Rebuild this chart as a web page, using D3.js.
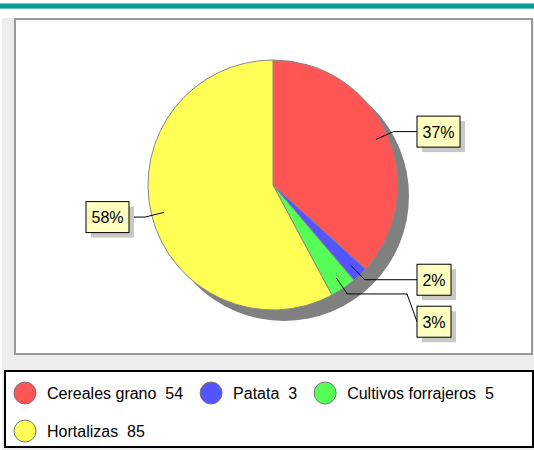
<!DOCTYPE html>
<html><head><meta charset="utf-8">
<script src="https://cdn.jsdelivr.net/npm/d3@7"></script>
<style>body{margin:0;background:#fff}svg{display:block;font-family:"Liberation Sans",Arial,sans-serif}</style>
</head><body>
<svg id="c" width="534" height="450"></svg>
<script>
const categories = ["Cereales grano", "Patata", "Cultivos forrajeros", "Hortalizas"];
const values = [54, 3, 5, 85];
const colors = ["#ff5555", "#5555ff", "#55ff55", "#ffff55"];

const svg = d3.select("#c");
// top teal bar
svg.append("rect").attr("x",0).attr("y",3).attr("width",534).attr("height",6).attr("fill","#0a9b97");
svg.append("rect").attr("x",0).attr("y",3).attr("width",534).attr("height",1).attr("fill","#6cc9c6");
svg.append("rect").attr("x",0).attr("y",8).attr("width",534).attr("height",1).attr("fill","#5fc2bf");
// gray background
svg.append("rect").attr("x",2).attr("y",18).attr("width",532).attr("height",432).attr("fill","#eeeeee");
// plot box
svg.append("rect").attr("x",15).attr("y",19).attr("width",517).attr("height",335)
  .attr("fill","#fff").attr("stroke","#999").attr("stroke-width",2);

const cx = 273, cy = 185, r = 125;
const total = d3.sum(values);
const pie = d3.pie().sort(null).value(d => d)(values);
const arc = d3.arc().innerRadius(0).outerRadius(r);
const g = svg.append("g").attr("transform", `translate(${cx},${cy})`);
// shadow
g.append("circle").attr("cx",11).attr("cy",11).attr("r",r).attr("fill","#808080");
g.selectAll("path.s").data(pie).join("path").attr("class","s")
  .attr("d", arc).attr("fill", (d,i) => colors[i]).attr("stroke","#888").attr("stroke-width",1);

// labels
const fmt = v => Math.round(v / total * 100) + "%";
const pt = (a, rr) => [rr * Math.sin(a), -rr * Math.cos(a)];
const bw = 43, bh = 31;
let lastBottomRight = -Infinity;
const lab = svg.append("g");
pie.forEach((d, i) => {
  const mid = (d.startAngle + d.endAngle) / 2;
  const a = pt(mid, r * 0.9), e = pt(mid, r * 1.055);
  const ax = cx + a[0], ay = cy + a[1], ex = cx + e[0], ey = cy + e[1];
  const right = Math.sin(mid) >= 0;
  const txt = fmt(d.value);
  const w = txt.length === 2 ? 34 : bw;
  let by = ey - bh / 2;
  if (right) {
    if (by < lastBottomRight + 11) by = lastBottomRight + 11;
    lastBottomRight = by + bh;
  }
  const bx = right ? cx + 144 : cx - 144 - w;
  const edgeX = right ? bx : bx + w;
  const pathPts = [[ax, ay], [ex, ey]];
  const by0 = by + bh / 2;
  if (Math.abs(by0 - ey) < 1) pathPts.push([edgeX, ey]);
  else { pathPts.push([edgeX - 10, ey]); pathPts.push([edgeX, by0]); }
  lab.append("path").attr("d", d3.line()(pathPts)).attr("fill","none").attr("stroke","#000").attr("stroke-width",1);
  lab.append("rect").attr("x", bx + 5).attr("y", by + 5).attr("width", w).attr("height", bh).attr("fill","#c8c8c8");
  lab.append("rect").attr("x", bx).attr("y", by).attr("width", w).attr("height", bh)
    .attr("fill","#ffffc0").attr("stroke","#000").attr("stroke-width",1);
  lab.append("text").attr("x", bx + w / 2).attr("y", by + bh / 2 + 6).attr("text-anchor","middle")
    .attr("font-size",16).attr("fill","#000").text(txt);
});

// legend
svg.append("rect").attr("x",5).attr("y",371).attr("width",528).attr("height",76)
  .attr("fill","#fff").attr("stroke","#000").attr("stroke-width",2);
const rows = [[0,1,2],[3]];
const rowY = [393, 431];
rows.forEach((row, ri) => {
  let x = 14;
  row.forEach(i => {
    const item = svg.append("g");
    item.append("circle").attr("cx", x + 11).attr("cy", rowY[ri]).attr("r", 11)
      .attr("fill", colors[i]).attr("stroke","#777").attr("stroke-width",1);
    const t = item.append("text").attr("x", x + 33).attr("y", rowY[ri] + 6).attr("font-size",16)
      .attr("fill","#000").attr("xml:space","preserve").style("white-space","pre")
      .text(categories[i] + "  " + values[i]);
    x = x + 33 + t.node().getComputedTextLength() + 17;
  });
});
</script>
</body></html>
